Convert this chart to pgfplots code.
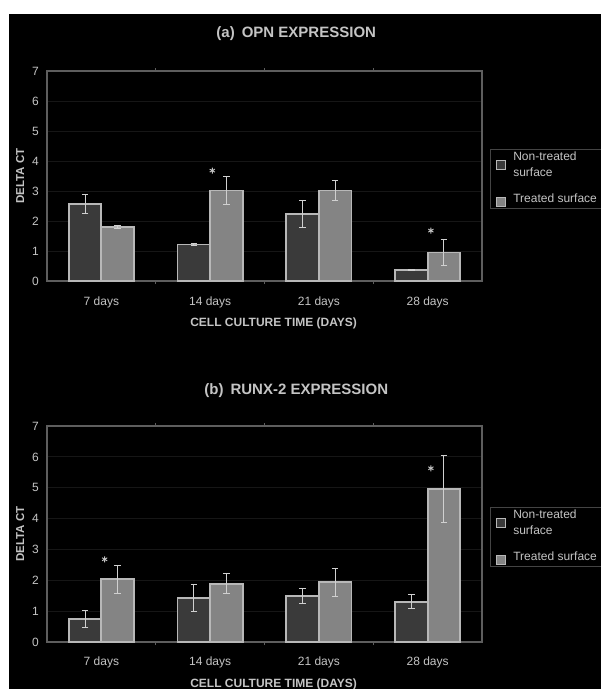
\documentclass[border=0pt]{standalone}
\usepackage{pgfplots}
\pgfplotsset{compat=1.18}
\usepackage{pgfplotstable}
\usepackage{fontspec}
\setmainfont{Liberation Sans}
\definecolor{txt}{HTML}{C4C4C4}
\definecolor{darkbar}{HTML}{3A3A3A}
\definecolor{lightbar}{HTML}{848484}
\definecolor{edge}{HTML}{B8B8B8}
\definecolor{errc}{HTML}{D0D0D0}
\definecolor{framec}{HTML}{5E5E5E}
\definecolor{gridc}{HTML}{161616}
\definecolor{legframe}{HTML}{444444}

% (a) OPN expression
\pgfplotstableread{
x y e
0 2.58 0.32
1 1.22 0.03
2 2.24 0.46
3 0.37 0.03
}\OPNnon
\pgfplotstableread{
x y e
0 1.80 0.06
1 3.02 0.46
2 3.02 0.34
3 0.95 0.43
}\OPNtre
% (b) RUNX-2 expression
\pgfplotstableread{
x y e
0 0.74 0.27
1 1.43 0.43
2 1.48 0.24
3 1.30 0.23
}\RUNnon
\pgfplotstableread{
x y e
0 2.03 0.45
1 1.89 0.32
2 1.94 0.45
3 4.95 1.08
}\RUNtre

\pgfplotsset{
  every axis title shift=-2pt,
  panel/.style={
    scale only axis, width=435pt,
    xmin=-0.5, xmax=3.5, ymin=0, ymax=7,
    ybar=0pt, bar width=0.3,
    axis line style={draw=framec, line width=1.2pt},
    xtick={0,1,2,3}, xticklabels={7 days,14 days,21 days,28 days},
    minor xtick={0.5,1.5,2.5},
    major x tick style={draw=none},
    minor tick length=3pt, minor tick style={draw=framec, line width=1pt},
    ytick={0,1,...,7}, major tick length=0pt,
    ymajorgrids, grid style={draw=gridc, line width=0.8pt},
    /pgf/number format/assume math mode=true,
    tick label style={font=\fontsize{12}{14}\selectfont, text=txt},
    yticklabel style={anchor=east, xshift=-4.7pt},
    ylabel={DELTA CT},
    ylabel style={at={(axis description cs:-0.0525,0.5)}, anchor=base,
      font=\bfseries\fontsize{11.5}{13}\selectfont, text=txt},
    xlabel={CELL CULTURE TIME (DAYS)},
    title style={anchor=base, font=\bfseries\fontsize{15}{18}\selectfont, text=txt},
    legend style={at={(axis description cs:1,0.5)}, anchor=west, xshift=8pt, yshift=-2.5pt,
      draw=legframe, line width=0.8pt, fill=black, text=txt,
      font=\fontsize{12}{16}\selectfont,
      cells={anchor=west, align=left},
      inner xsep=6pt, inner ysep=1pt, row sep=11.5pt, column sep=5pt},
    error bars/error bar style={draw=errc, line width=1pt},
    error bars/error mark options={rotate=90, draw=errc, mark size=3.2pt, line width=1pt},
  },
  nonbar/.style={fill=darkbar, draw=edge, line width=1.8pt, bar shift=-0.15,
    legend image code/.code={\draw[fill=darkbar, draw=edge, line width=0.9pt] (0pt,-4.3pt) rectangle (8.5pt,4.3pt);},
    error bars/.cd, y dir=both, y explicit},
  trebar/.style={fill=lightbar, draw=edge, line width=1.8pt, bar shift=0.15,
    legend image code/.code={\draw[fill=lightbar, draw=edge, line width=0.9pt] (0pt,-7.6pt) rectangle (9pt,1.0pt);},
    error bars/.cd, y dir=both, y explicit},
  star/.style={only marks, mark=asterisk, bar shift=0, forget plot,
    mark size=3pt, mark options={draw=txt, line width=0.9pt}},
}

\begin{document}
\begin{tikzpicture}
\useasboundingbox (0pt,0pt) rectangle (601pt,-689pt);
\begin{scope}
\clip (0pt,0pt) rectangle (601pt,-689pt);
\fill[white] (0pt,0pt) rectangle (601pt,-689pt);
\fill[black] (8.7pt,-14pt) rectangle (601pt,-689pt);

% ---------- (a) ----------
\begin{axis}[panel, at={(47pt,-281pt)}, anchor=south west, height=210pt,
  title={(a)\hspace{7pt}OPN EXPRESSION},
  title style={at={(axis description cs:0.573,1.1695)}},
  xlabel style={at={(axis description cs:0.521,-0.219)}, anchor=base,
    font=\bfseries\fontsize{12}{14}\selectfont, text=txt},
  xticklabel style={anchor=base, yshift=-24pt},
]
\addplot[nonbar] table[x=x, y=y, y error=e] {\OPNnon};
\addlegendentry{Non-treated\\surface}
\addplot[trebar] table[x=x, y=y, y error=e] {\OPNtre};
\addlegendentry{Treated surface}
\addplot[star] coordinates {(1.02,3.68) (3.03,1.68)};
\end{axis}

% ---------- (b) ----------
\begin{axis}[panel, at={(47pt,-642pt)}, anchor=south west, height=216pt,
  title={(b)\hspace{7pt}RUNX-2 EXPRESSION},
  title style={at={(axis description cs:0.573,1.157)}},
  xlabel style={at={(axis description cs:0.521,-0.2083)}, anchor=base,
    font=\bfseries\fontsize{12}{14}\selectfont, text=txt},
  xticklabel style={anchor=base, yshift=-23.3pt},
]
\addplot[nonbar] table[x=x, y=y, y error=e] {\RUNnon};
\addlegendentry{Non-treated\\surface}
\addplot[trebar] table[x=x, y=y, y error=e] {\RUNtre};
\addlegendentry{Treated surface}
\addplot[star] coordinates {(0.03,2.68) (3.03,5.63)};
\end{axis}
\end{scope}
\end{tikzpicture}
\end{document}
